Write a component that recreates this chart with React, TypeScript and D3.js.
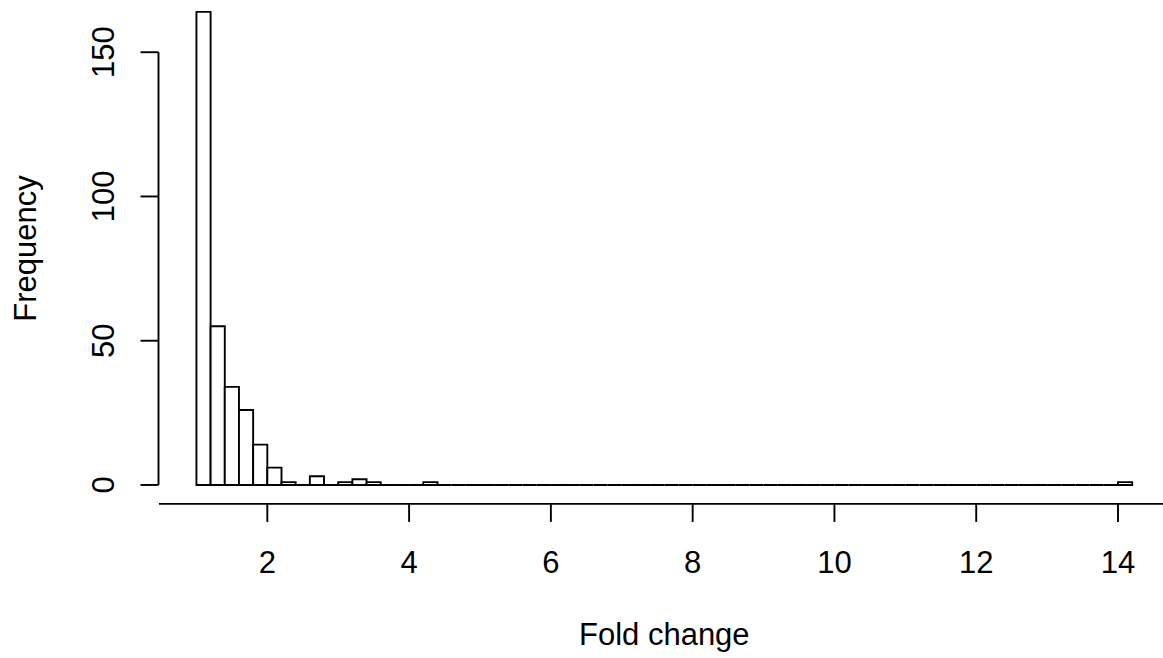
import React from "react";
import * as d3 from "d3";

// histogram of fold changes, bins of 0.2 from 1.0 to 14.2
const breaks = [
  1.0, 1.2, 1.4, 1.6, 1.8, 2.0, 2.2, 2.4, 2.6, 2.8, 3.0, 3.2, 3.4, 3.6, 3.8, 4.0, 4.2, 4.4, 4.6, 4.8,
  5.0, 5.2, 5.4, 5.6, 5.8, 6.0, 6.2, 6.4, 6.6, 6.8, 7.0, 7.2, 7.4, 7.6, 7.8, 8.0, 8.2, 8.4, 8.6, 8.8,
  9.0, 9.2, 9.4, 9.6, 9.8, 10.0, 10.2, 10.4, 10.6, 10.8, 11.0, 11.2, 11.4, 11.6, 11.8, 12.0, 12.2, 12.4,
  12.6, 12.8, 13.0, 13.2, 13.4, 13.6, 13.8, 14.0, 14.2,
];
const counts = [
  164, 55, 34, 26, 14, 6, 1, 0, 3, 0, 1, 2, 1, 0, 0, 0, 1, 0, 0, 0,
  0, 0, 0, 0, 0, 0, 0, 0, 0, 0, 0, 0, 0, 0, 0, 0, 0, 0, 0, 0,
  0, 0, 0, 0, 0, 0, 0, 0, 0, 0, 0, 0, 0, 0, 0, 0, 0, 0, 0, 0,
  0, 0, 0, 0, 0, 1,
];
const xTicks = [2, 4, 6, 8, 10, 12, 14];
const yTicks = [0, 50, 100, 150];
const xLabel = "Fold change";
const yLabel = "Frequency";

const W = 1163,
  H = 658;
const font = "'Liberation Sans', Arial, Helvetica, sans-serif";
const fs = 31;
const lw = 1.9;

export default function App() {
  // R style 4% expansion of the data range
  const x0 = breaks[0],
    x1 = breaks[breaks.length - 1];
  const xPad = (x1 - x0) * 0.04;
  const yMax = d3.max(counts) as number;
  const yPad = yMax * 0.04;

  const plot = { left: 159, right: 1169.6, top: -7.1, bottom: 503.9 };

  const x = d3.scaleLinear().domain([x0 - xPad, x1 + xPad]).range([plot.left, plot.right]);
  const y = d3.scaleLinear().domain([-yPad, yMax + yPad]).range([plot.bottom, plot.top]);

  const bins = counts.map((c, i) => ({ lo: breaks[i], hi: breaks[i + 1], c }));
  const tick = 18;

  // closed rectangle path, so empty bins still draw as a flat line
  const barPath = (b: { lo: number; hi: number; c: number }) => {
    const p = d3.path();
    p.rect(x(b.lo), y(b.c), x(b.hi) - x(b.lo), y(0) - y(b.c));
    return p.toString();
  };

  return (
    <svg
      width={W}
      height={H}
      style={{ position: "absolute", left: 0, top: 0, background: "#fff" }}
      fontFamily={font}
      fontSize={fs}
    >
      <rect width={W} height={H} fill="#fff" />

      {/* bars */}
      <g fill="#fff" stroke="#000" strokeWidth={lw}>
        {bins.map((b, i) => (
          <path key={i} d={barPath(b)} />
        ))}
      </g>

      {/* x axis: line spans the whole plot region */}
      <g stroke="#000" strokeWidth={lw}>
        <line x1={plot.left} x2={plot.right} y1={plot.bottom} y2={plot.bottom} />
        {xTicks.map((t) => (
          <line key={t} x1={x(t)} x2={x(t)} y1={plot.bottom} y2={plot.bottom + tick} />
        ))}
      </g>
      {xTicks.map((t) => (
        <text key={t} x={x(t)} y={573} textAnchor="middle" fill="#000">
          {t}
        </text>
      ))}
      <text x={(plot.left + plot.right) / 2} y={645} textAnchor="middle" fill="#000">
        {xLabel}
      </text>

      {/* y axis */}
      <g stroke="#000" strokeWidth={lw}>
        <line x1={plot.left - 0.5} x2={plot.left - 0.5} y1={y(yTicks[0])} y2={y(yTicks[yTicks.length - 1])} />
        {yTicks.map((t) => (
          <line key={t} x1={plot.left - 0.5 - tick} x2={plot.left - 0.5} y1={y(t)} y2={y(t)} />
        ))}
      </g>
      {yTicks.map((t) => (
        <text key={t} transform={`translate(113.5, ${y(t)}) rotate(-90)`} textAnchor="middle" fill="#000">
          {t}
        </text>
      ))}
      <text transform={`translate(35.5, ${(plot.top + plot.bottom) / 2}) rotate(-90)`} textAnchor="middle" fill="#000">
        {yLabel}
      </text>
    </svg>
  );
}
